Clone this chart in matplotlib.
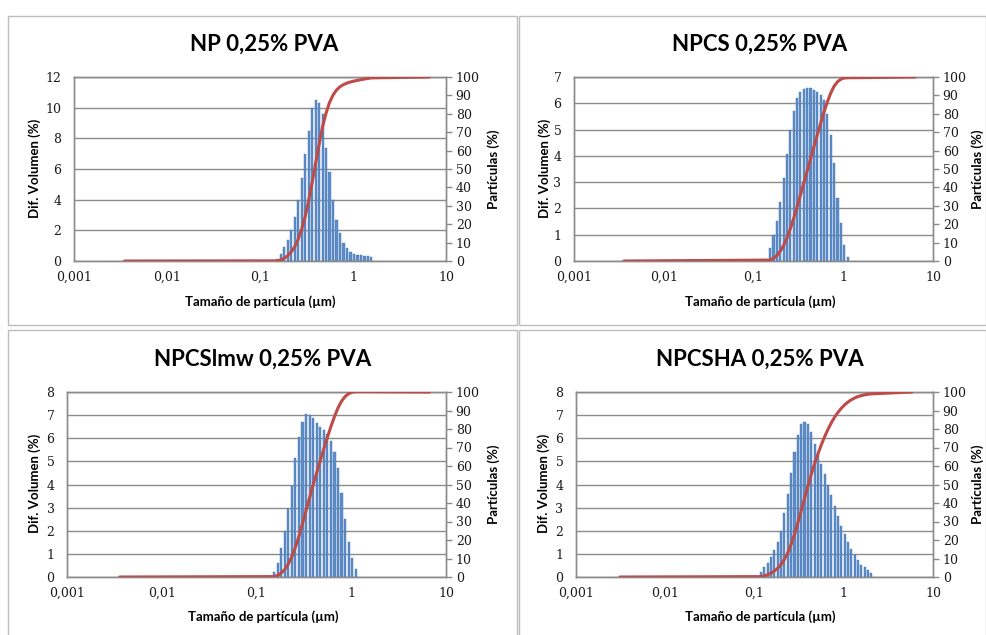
import numpy as np
import matplotlib.pyplot as plt
from matplotlib.patches import Rectangle

# Canales de tamaño del equipo (µm), espaciado logarítmico
channels = [0.1183, 0.1290, 0.1406, 0.1532, 0.1671, 0.1822, 0.1986, 0.2165,
            0.2360, 0.2573, 0.2805, 0.3058, 0.3334, 0.3635, 0.3963, 0.4320,
            0.4710, 0.5135, 0.5598, 0.6103, 0.6653, 0.7253, 0.7907, 0.8620,
            0.9397, 1.0245, 1.1169, 1.2176, 1.3274, 1.4471, 1.5776, 1.7199,
            1.8750, 2.0441]

titles = ["NP 0,25% PVA", "NPCS 0,25% PVA", "NPCSlmw 0,25% PVA", "NPCSHA 0,25% PVA"]

# Dif. volumen (%) por canal
np_vol = [0.1, 0.45, 0.93, 1.4, 2.0, 2.85, 4.0, 5.4, 7.0, 8.5, 10.0, 10.5, 10.3, 9.6,
          7.4, 5.8, 4.0, 2.7, 1.8, 1.15, 0.83, 0.6, 0.47, 0.4, 0.37, 0.35, 0.33, 0.28]
npcs_vol = [0.5, 1.0, 1.52, 2.25, 3.17, 4.07, 4.98, 5.7, 6.22, 6.44, 6.54, 6.59,
            6.57, 6.5, 6.44, 6.31, 6.12, 5.58, 4.79, 3.71, 2.38, 1.43, 0.61, 0.16]
npcslmw_vol = [0.23, 0.62, 1.24, 2.0, 2.92, 3.93, 5.13, 6.07, 6.71, 7.05, 7.0, 6.86,
               6.67, 6.5, 6.35, 6.17, 5.88, 5.42, 4.7, 3.62, 2.49, 1.53, 0.81, 0.33]
npcsha_vol = [0.22, 0.42, 0.62, 0.86, 1.15, 1.51, 2.0, 2.78, 3.6, 4.51, 5.4, 6.12,
              6.6, 6.72, 6.63, 6.27, 5.76, 5.33, 4.87, 4.44, 3.99, 3.53, 3.07, 2.62,
              2.2, 1.87, 1.51, 1.22, 0.97, 0.75, 0.53, 0.43, 0.29, 0.19]
volumes = [np_vol, npcs_vol, npcslmw_vol, npcsha_vol]
first_channel = [3, 3, 3, 0]
ymax = [12, 7, 8, 8]
ystep = [2, 1, 1, 1]

# extremos de la curva acumulada (µm)
line_start = [0.0035, 0.0036, 0.0036, 0.0031]
line_end = [6.6, 6.3, 6.7, 5.8]

xticks = [0.001, 0.01, 0.1, 1, 10]
xticklabels = ["0,001", "0,01", "0,1", "1", "10"]

BLUE = "#5E8FCB"
BLUE_EDGE = "#4572AE"
RED = "#BE4B48"
GRID = "#8C8C8C"
TICK_FONT = "DejaVu Serif"
LABEL_FONT = "Lato"

W, H = 987, 635
fig = plt.figure(figsize=(W / 100, H / 100), dpi=100)

# posiciones en pixeles: (izq, der, arriba, abajo) del area de trazado
plot_px = [(74, 446, 77, 261), (574, 933, 77, 261),
           (67, 446, 392, 577), (576, 933, 392, 577)]
frame_px = [(8, 517, 16, 325), (519, 986, 16, 325),
            (8, 517, 330, 640), (519, 986, 330, 640)]
title_px = [(264, 44), (760, 44), (263, 359), (760, 359)]
xlabel_px = [(260, 302), (760, 302), (263, 617), (760, 617)]
ylabel_px = [(35, 168), (545, 168), (35, 483), (544, 483)]
y2label_px = [(494, 169), (978, 169), (494, 484), (978, 484)]

half = 0.31 * 0.0375  # semiancho de barra en décadas

for i in range(4):
    fx0, fx1, fy0, fy1 = frame_px[i]
    fig.patches.append(Rectangle((fx0 / W, 1 - fy1 / H), (fx1 - fx0) / W, (fy1 - fy0) / H,
                                 transform=fig.transFigure, fill=False,
                                 edgecolor="#BDBDBD", linewidth=1.0))

    l, r, t, b = plot_px[i]
    ax = fig.add_axes([l / W, 1 - b / H, (r - l) / W, (b - t) / H])
    ax2 = ax.twinx()

    vol = np.array(volumes[i])
    sizes = np.array(channels[first_channel[i]:first_channel[i] + len(vol)])
    left = sizes * 10 ** (-half)
    width = sizes * 10 ** half - left
    ax.bar(left, vol, width=width, align="edge", color=BLUE,
           edgecolor=BLUE_EDGE, linewidth=0.3, zorder=3)

    cum = np.cumsum(vol)
    lx = np.concatenate([[line_start[i]], sizes, [line_end[i]]])
    ly = np.concatenate([[0], cum, [100]])
    ax2.plot(lx, ly, color=RED, linewidth=2.2, solid_capstyle="round", zorder=4)

    ax.set_xscale("log")
    ax.set_xlim(0.001, 10)
    ax.set_ylim(0, ymax[i])
    ax2.set_ylim(0, 100)
    ax.set_yticks(np.arange(0, ymax[i] + 1, ystep[i]))
    ax2.set_yticks(np.arange(0, 101, 10))
    ax.set_xticks(xticks)
    ax.set_xticklabels(xticklabels)
    ax.xaxis.set_minor_locator(plt.NullLocator())

    ax.yaxis.grid(True, color=GRID, linewidth=1.0, zorder=0)
    ax.set_axisbelow(True)
    for a in (ax, ax2):
        for s in a.spines.values():
            s.set_color(GRID)
            s.set_linewidth(1.0)
    ax.tick_params(axis="y", length=0, pad=9, labelsize=9, labelcolor="#1a1a1a")
    ax.tick_params(axis="x", length=0, pad=7, labelsize=9, labelcolor="#1a1a1a")
    ax2.tick_params(axis="y", length=4, width=1.0, color=GRID, pad=3,
                    labelsize=9, labelcolor="#1a1a1a")
    for lab in ax.get_xticklabels() + ax.get_yticklabels() + ax2.get_yticklabels():
        lab.set_fontfamily(TICK_FONT)

    tx, ty = title_px[i]
    fig.text(tx / W, 1 - ty / H, titles[i], ha="center", va="center",
             fontsize=16, fontweight="bold", family=LABEL_FONT)
    xx, xy = xlabel_px[i]
    fig.text(xx / W, 1 - xy / H, "Tamaño de partícula (µm)", ha="center", va="center",
             fontsize=9.5, fontweight="bold", family=LABEL_FONT)
    yx, yy = ylabel_px[i]
    fig.text(yx / W, 1 - yy / H, "Dif. Volumen (%)", ha="center", va="center",
             rotation=90, fontsize=9.5, fontweight="bold", family=LABEL_FONT)
    rx, ry = y2label_px[i]
    fig.text(rx / W, 1 - ry / H, "Partículas (%)", ha="center", va="center",
             rotation=90, fontsize=9.5, fontweight="bold", family=LABEL_FONT)

fig.savefig("out.png", dpi=100, facecolor="white")
